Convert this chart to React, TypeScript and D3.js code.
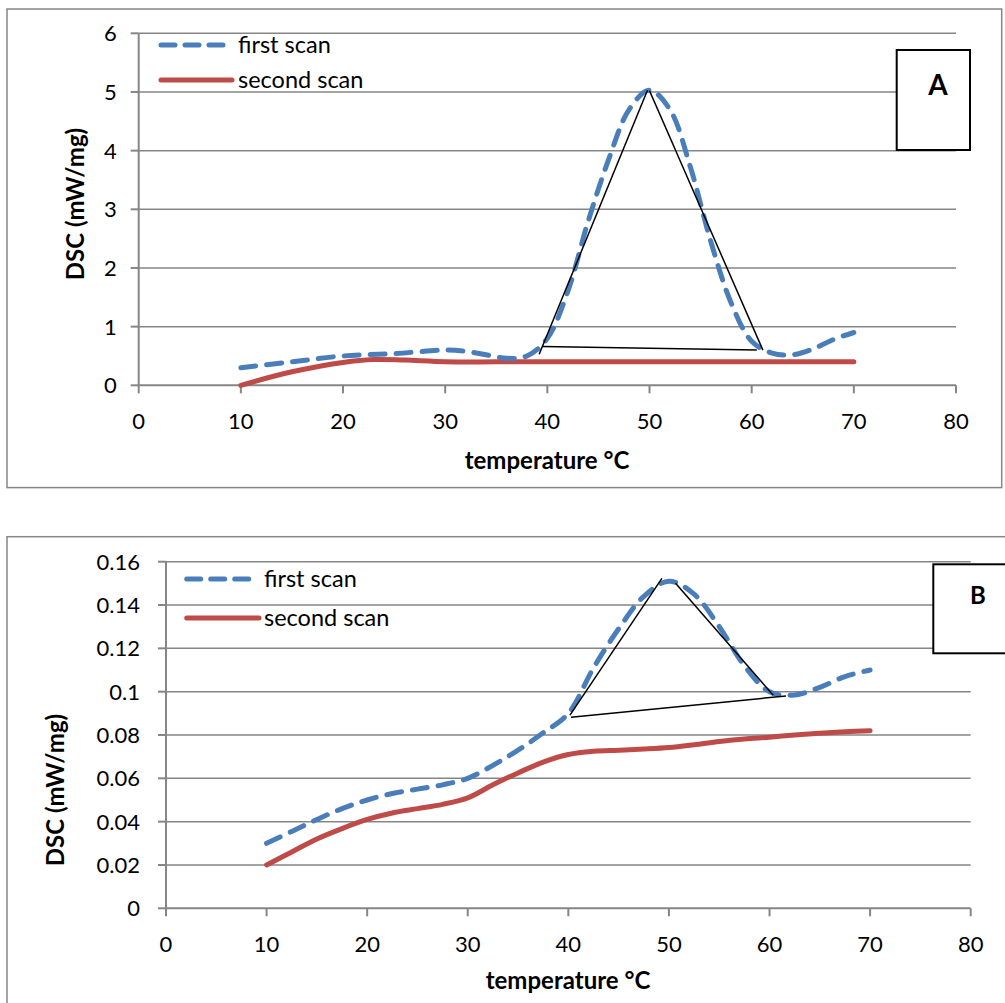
import React from "react";
import * as d3 from "d3";

type Pt = [number, number];

// ---- panel A (mW/mg, 0..6) ----
const tempsA1 = [10, 15, 20, 25, 30, 32, 34, 36, 38, 40, 42, 44, 46, 48, 50, 52, 54, 56, 58, 60, 62, 64, 66, 68, 70];
const firstScanA = [0.3, 0.4, 0.5, 0.54, 0.6, 0.58, 0.52, 0.46, 0.5, 0.8, 1.6, 2.8, 3.85, 4.7, 5.03, 4.7, 3.72, 2.45, 1.4, 0.75, 0.55, 0.52, 0.62, 0.78, 0.9];
const tempsA2 = [10, 15, 20, 23, 26, 30, 35, 40, 45, 50, 55, 60, 65, 70];
const secondScanA = [0, 0.23, 0.39, 0.44, 0.43, 0.4, 0.4, 0.4, 0.4, 0.4, 0.4, 0.4, 0.4, 0.4];
const yTicksA = [0, 1, 2, 3, 4, 5, 6];
const yLabelsA = ["0", "1", "2", "3", "4", "5", "6"];
// hand drawn tangent lines around the peak
const peakLinesA: Pt[][] = [
  [[39.2, 0.53], [49.8, 5.03]],
  [[50.0, 5.02], [61.1, 0.6]],
  [[39.5, 0.66], [60.5, 0.6]],
];

// ---- panel B (mW/mg, 0..0.16) ----
const tempsB = [10, 12.5, 15, 17.5, 20, 22.5, 25, 27.5, 30, 32.5, 35, 37.5, 40, 42.5, 45, 47.5, 50, 52.5, 55, 57.5, 60, 62.5, 65, 67.5, 70];
const firstScanB = [0.03, 0.0355, 0.041, 0.046, 0.05, 0.053, 0.055, 0.057, 0.06, 0.066, 0.073, 0.081, 0.09, 0.111, 0.129, 0.144, 0.151, 0.145, 0.13, 0.112, 0.1, 0.0985, 0.102, 0.107, 0.11];
const secondScanB = [0.02, 0.026, 0.032, 0.0368, 0.041, 0.044, 0.046, 0.048, 0.051, 0.057, 0.0625, 0.0675, 0.071, 0.0725, 0.073, 0.0735, 0.0742, 0.0755, 0.077, 0.0782, 0.079, 0.08, 0.0808, 0.0815, 0.082];
const yTicksB = [0, 0.02, 0.04, 0.06, 0.08, 0.1, 0.12, 0.14, 0.16];
const yLabelsB = ["0", "0.02", "0.04", "0.06", "0.08", "0.1", "0.12", "0.14", "0.16"];
const peakLinesB: Pt[][] = [
  [[40.16, 0.0892], [49.3, 0.1523]],
  [[50.66, 0.15], [60.37, 0.0984]],
  [[40.26, 0.0882], [61.63, 0.098]],
];

const xTicks = [0, 10, 20, 30, 40, 50, 60, 70, 80];
const seriesNames = ["first scan", "second scan"];

const BLUE = "#4A7EBB";
const RED = "#BE4B48";
const GRID = "#868686";
const FONT = "Lato, 'Open Sans', sans-serif";

type PanelProps = {
  frame: { x: number; y: number; w: number; h: number };
  plot: { left: number; right: number; top: number; bottom: number };
  yMax: number;
  yTicks: number[];
  yLabels: string[];
  first: Pt[];
  second: Pt[];
  marks: Pt[][];
  legend: { x0: number; x1Blue: number; x1Red: number; y1: number; y2: number; textX: number };
  tag: { x: number; y: number; w: number; h: number; text: string; tx: number; ty: number; size: number };
  yTitle: { x: number; y: number };
  xTitle: { x: number; y: number };
  xLabelY: number;
  yLabelGap: number;
};

const Panel = (p: PanelProps) => {
  const x = d3.scaleLinear().domain([0, 80]).range([p.plot.left, p.plot.right]);
  const y = d3.scaleLinear().domain([0, p.yMax]).range([p.plot.bottom, p.plot.top]);
  const smooth = d3
    .line<Pt>()
    .x((d) => x(d[0]))
    .y((d) => y(d[1]))
    .curve(d3.curveCatmullRom.alpha(0.5));
  const straight = d3
    .line<Pt>()
    .x((d) => x(d[0]))
    .y((d) => y(d[1]));

  return (
    <g>
      <rect x={p.frame.x} y={p.frame.y} width={p.frame.w} height={p.frame.h} fill="white" stroke={GRID} strokeWidth={1.5} />

      {/* gridlines */}
      {p.yTicks.slice(1).map((t) => (
        <line key={"g" + t} x1={x(0)} x2={x(80)} y1={y(t)} y2={y(t)} stroke={GRID} strokeWidth={1.5} />
      ))}

      {/* axes */}
      <line x1={x(0)} x2={x(80)} y1={y(0)} y2={y(0)} stroke={GRID} strokeWidth={2} />
      <line x1={x(0)} x2={x(0)} y1={y(0)} y2={y(p.yMax)} stroke={GRID} strokeWidth={2} />
      {p.yTicks.map((t, i) => (
        <g key={"y" + t}>
          <line x1={x(0) - 8} x2={x(0)} y1={y(t)} y2={y(t)} stroke={GRID} strokeWidth={2} />
          <text x={x(0) - p.yLabelGap} y={y(t)} dy="0.36em" textAnchor="end" fontSize={22} fontFamily={FONT} fill="#000">
            {p.yLabels[i]}
          </text>
        </g>
      ))}
      {xTicks.map((t) => (
        <g key={"x" + t}>
          <line x1={x(t)} x2={x(t)} y1={y(0)} y2={y(0) + 8} stroke={GRID} strokeWidth={2} />
          <text x={x(t)} y={p.xLabelY} textAnchor="middle" fontSize={22} fontFamily={FONT} fill="#000">
            {t}
          </text>
        </g>
      ))}

      {/* series */}
      <path d={smooth(p.second) || ""} fill="none" stroke={RED} strokeWidth={5} strokeLinecap="round" />
      <path d={smooth(p.first) || ""} fill="none" stroke={BLUE} strokeWidth={5} strokeLinecap="round" strokeDasharray="15 11" />

      {/* tangent lines */}
      {p.marks.map((m, i) => (
        <path key={"m" + i} d={straight(m) || ""} fill="none" stroke="#000" strokeWidth={1.5} />
      ))}

      {/* legend */}
      <line x1={p.legend.x0} x2={p.legend.x1Blue} y1={p.legend.y1} y2={p.legend.y1} stroke={BLUE} strokeWidth={5} strokeLinecap="round" strokeDasharray="14 10" />
      <line x1={p.legend.x0} x2={p.legend.x1Red} y1={p.legend.y2} y2={p.legend.y2} stroke={RED} strokeWidth={5} strokeLinecap="round" />
      <text x={p.legend.textX} y={p.legend.y1} dy="0.34em" fontSize={23.5} fontFamily={FONT}>{seriesNames[0]}</text>
      <text x={p.legend.textX} y={p.legend.y2} dy="0.34em" fontSize={23.5} fontFamily={FONT}>{seriesNames[1]}</text>

      {/* panel letter */}
      <rect x={p.tag.x} y={p.tag.y} width={p.tag.w} height={p.tag.h} fill="white" stroke="#000" strokeWidth={2} />
      <text x={p.tag.tx} y={p.tag.ty} textAnchor="middle" fontSize={p.tag.size} fontWeight="bold" fontFamily={FONT}>
        {p.tag.text}
      </text>

      {/* axis titles */}
      <text
        transform={`translate(${p.yTitle.x},${p.yTitle.y}) rotate(-90)`}
        textAnchor="middle"
        dy="0.36em"
        fontSize={24}
        fontWeight="bold"
        fontFamily={FONT}
      >
        DSC (mW/mg)
      </text>
      <text x={p.xTitle.x} y={p.xTitle.y} textAnchor="middle" fontSize={24} fontWeight="bold" fontFamily={FONT}>
        temperature °C
      </text>
    </g>
  );
};

const zip = (a: number[], b: number[]): Pt[] => a.map((t, i) => [t, b[i]]);

export default function App() {
  return (
    <svg width={1005} height={1003} style={{ position: "absolute", left: 0, top: 0, background: "white" }}>
      <Panel
        frame={{ x: 7, y: 9, w: 994.7, h: 478.6 }}
        plot={{ left: 138.7, right: 956, top: 33.3, bottom: 385.3 }}
        yMax={6}
        yTicks={yTicksA}
        yLabels={yLabelsA}
        first={zip(tempsA1, firstScanA)}
        second={zip(tempsA2, secondScanA)}
        marks={peakLinesA}
        legend={{ x0: 161, x1Blue: 226, x1Red: 232, y1: 45, y2: 80, textX: 238 }}
        tag={{ x: 896.7, y: 50, w: 73.3, h: 100, text: "A", tx: 938, ty: 95, size: 28 }}
        yTitle={{ x: 75, y: 204 }}
        xTitle={{ x: 547, y: 469 }}
        xLabelY={429}
        yLabelGap={22}
      />
      <Panel
        frame={{ x: 7, y: 536.7, w: 1010, h: 480 }}
        plot={{ left: 166, right: 970.7, top: 561.7, bottom: 908.3 }}
        yMax={0.16}
        yTicks={yTicksB}
        yLabels={yLabelsB}
        first={zip(tempsB, firstScanB)}
        second={zip(tempsB, secondScanB)}
        marks={peakLinesB}
        legend={{ x0: 186.7, x1Blue: 251.7, x1Red: 259, y1: 579, y2: 618, textX: 264 }}
        tag={{ x: 933.3, y: 564.3, w: 80, h: 89, text: "B", tx: 978, ty: 604, size: 24 }}
        yTitle={{ x: 55, y: 790 }}
        xTitle={{ x: 568, y: 989 }}
        xLabelY={952}
        yLabelGap={26}
      />
    </svg>
  );
}
